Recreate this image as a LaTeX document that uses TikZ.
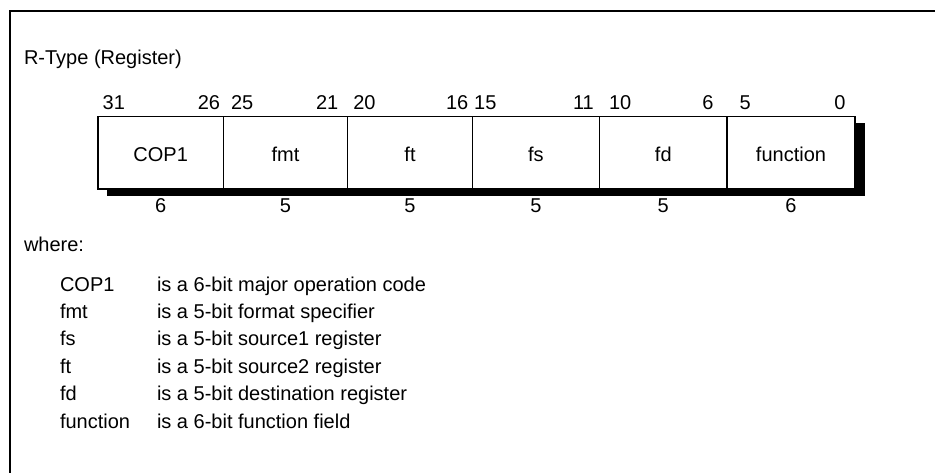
\documentclass[tikz,border=0pt]{standalone}
\usepackage{fontspec}
\setmainfont{Liberation Sans}
\begin{document}
\begin{tikzpicture}[x=1pt,y=-1pt,
  every node/.style={font=\fontsize{20}{23}\selectfont, inner sep=0pt, outer sep=0pt},
  cell/.style={draw, fill=white, line width=1.3pt, minimum height=72.3pt, text height=18pt, text depth=0pt},
  bitl/.style={anchor=base west},
  bitr/.style={anchor=base east},
  wid/.style={anchor=base},
  txt/.style={anchor=base west},
  frame/.style={line width=2pt}]
\useasboundingbox (0,0) rectangle (935,473);
\coordinate (fbl) at (10,474);
\coordinate (ftl) at (10,11);
\coordinate (ftr) at (936,11);
\draw[frame] (fbl) -- (ftl) -- (ftr);
\node[txt] (title) at (24,65) {R-Type (Register)};
% shadow
\fill (107,123) rectangle (865,196);
% cells
\foreach \a/\b/\t/\n/\w in {98/223.3/COP1/c1/6, 223.3/347.7/fmt/c2/5, 347.7/472.3/ft/c3/5, 472.3/599.6/fs/c4/5, 599.6/727/fd/c5/5, 727/855/function/c6/6}{
  \node[cell, minimum width={\b-\a}] (\n) at ({(\a+\b)/2},152.85) {\t};
  \node[wid] (w\n) at ({(\a+\b)/2},213) {\w};
}
% bit numbers
\foreach \x/\t/\n in {102.7/31/l1, 231/25/l2, 353.3/20/l3, 474.2/15/l4, 609/10/l5, 739.5/5/l6}
  \node[bitl] (\n) at (\x,109.5) {\t};
\foreach \x/\t/\n in {220/26/r1, 338.3/21/r2, 468.3/16/r3, 593.8/11/r4, 713.4/6/r5, 845.5/0/r6}
  \node[bitr] (\n) at (\x,109.5) {\t};
% legend
\node[txt] (where) at (24,252) {where:};
\foreach \y/\nm/\d/\n in {291/COP1/is a 6-bit major operation code/g1,
  318.4/fmt/is a 5-bit format specifier/g2,
  345.8/fs/is a 5-bit source1 register/g3,
  373.2/ft/is a 5-bit source2 register/g4,
  400.6/fd/is a 5-bit destination register/g5,
  428/function/is a 6-bit function field/g6}{
  \node[txt] (n\n) at (60,\y) {\nm};
  \node[txt] (d\n) at (157,\y) {\d};
}
\end{tikzpicture}
\end{document}
